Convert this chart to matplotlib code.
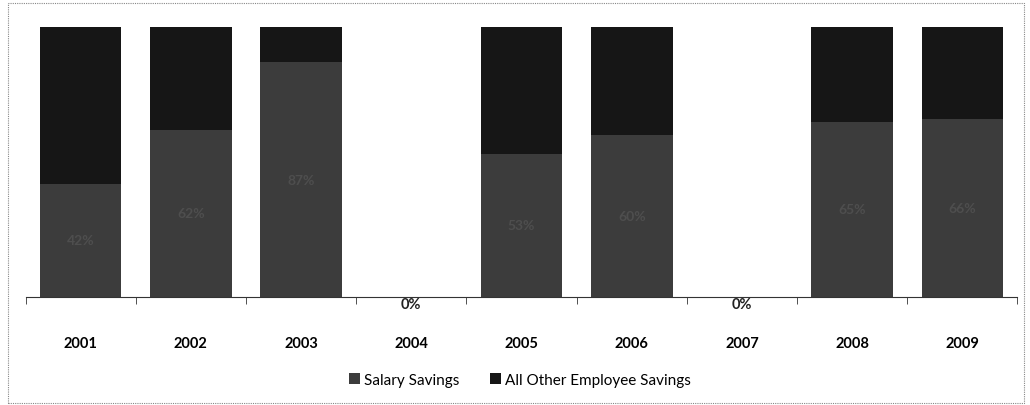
import numpy as np
import matplotlib.pyplot as plt
from matplotlib.patches import Rectangle

plt.rcParams['font.family'] = ['Lato', 'DejaVu Sans']

years = ['2001', '2002', '2003', '2004', '2005', '2006', '2007', '2008', '2009']
salary = [0.42, 0.62, 0.87, 0.0, 0.53, 0.60, 0.0, 0.65, 0.66]
other = [0.58, 0.38, 0.13, 0.0, 0.47, 0.40, 0.0, 0.35, 0.34]

fig = plt.figure(figsize=(10.30, 4.06), dpi=100)
ax = fig.add_axes([25.5 / 1030, 108 / 406, 992 / 1030, 270 / 406])

x = np.arange(len(years))
w = 0.74
ax.bar(x, salary, w, color='#3c3c3c', label='Salary Savings')
ax.bar(x, other, w, bottom=salary, color='#161616', label='All Other Employee Savings')

# percentage labels in the salary part, 0% sits on the baseline
for xi, s in zip(x, salary):
    if s == 0:
        ax.text(xi, 0.0, '0%', ha='center', va='top', fontsize=10.5, fontweight='bold', color='#222222')
    else:
        ax.text(xi, s / 2, '%d%%' % round(s * 100), ha='center', va='center', fontsize=10,
                fontweight='bold', color='#4e4e4e')

ax.set_xlim(-0.5, len(years) - 0.5)
ax.set_ylim(0, 1)
for s in ['top', 'right', 'left']:
    ax.spines[s].set_visible(False)
ax.spines['bottom'].set_color('#333333')
ax.set_yticks([])
ax.set_xticks(x)
ax.set_xticklabels(years, fontsize=10.5, fontweight='bold')
ax.tick_params(axis='x', which='major', length=0, pad=28)
ax.set_xticks(np.arange(-0.5, len(years)), minor=True)
ax.tick_params(axis='x', which='minor', length=5, color='#333333')

fig.legend(loc='center', bbox_to_anchor=(520 / 1030, 1 - 381 / 406), ncol=2, frameon=False,
           fontsize=11, handlelength=0.7, handleheight=0.7, handletextpad=0.3, columnspacing=2.0)

# thin frame around the chart area
fig.add_artist(Rectangle((8 / 1030, 2 / 406), 1016 / 1030, 400 / 406, transform=fig.transFigure,
                         fill=False, edgecolor='#888888', linewidth=0.8, linestyle=(0, (1, 1))))

fig.savefig('out.png', dpi=100)
